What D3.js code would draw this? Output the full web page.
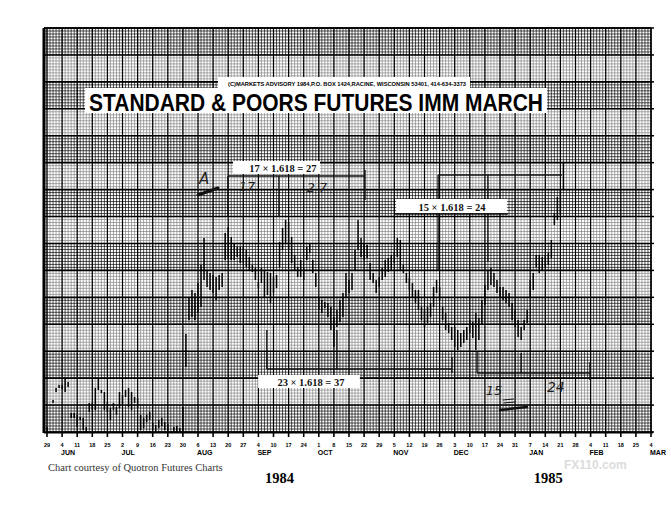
<!DOCTYPE html>
<html><head><meta charset="utf-8">
<script src="https://cdn.jsdelivr.net/npm/d3@7"></script>
<style>html,body{margin:0;padding:0;background:#fff;} svg{display:block;}</style>
</head><body>
<svg id="c" width="671" height="506"></svg>
<script>
// ---------------- data ----------------
const tickLabels = ["29","4","11","18","25","2","9","16","23","30","6","13","20","27","4","10","17","24","1","8","15","22","29","5","12","19","26","3","10","17","24","31","7","14","21","28","4","11","18","25","4"];
const monthLabels = ["JUN","JUL","AUG","SEP","OCT","NOV","DEC","JAN","FEB","MAR"];
const monthTick = [1,5,10,14,18,23,27,32,36,40];
const yearLabels = ["1984","1985"];

// trading-day index (0 = May 29 1984), daily high and low
const days = [0,2,3,4,5,6,7,8,9,10,11,12,13,14,15,16,17,18,19,20,21,22,23,24,25,26,27,28,29,30,31,32,33,34,35,36,37,38,39,40,42,43,44,45,46,
 47,48,49,50,51,52,53,54,55,56,57,58,59,60,61,62,63,64,65,66,67,68,69,70,71,72,73,74,75,76,77,78,79,80,81,82,83,84,85,86,87,88,89,90,
 91,92,93,94,95,96,97,98,99,100,101,102,103,104,105,106,107,108,109,110,111,112,113,114,115,116,117,118,119,120,121,122,123,124,125,
 126,127,128,129,130,131,132,133,134,135,136,137,138,139,140,141,142,143,144,145,146,147,148,149,150,151,152,153,154,155,156,157,158,
 159,160,161,162,163,164,165,166,167,168,169,170,171];
const highs = [150.5,153.2,154.4,154.7,154.7,155.4,155.0,151.9,151.9,151.7,151.5,151.4,150.5,152.9,152.9,154.4,155.4,154.2,154.0,153.0,
 152.4,152.9,152.5,154.0,153.7,154.2,154.4,154.0,153.5,153.4,151.7,151.4,151.7,152.0,150.9,150.7,151.2,151.4,151.0,150.8,150.5,150.6,150.4,152.5,159.8,
 163.5,164.2,163.9,164.9,166.7,169.4,166.2,165.9,165.7,165.5,165.7,165.9,169.9,170.5,169.5,168.9,168.5,168.5,168.5,168.2,167.5,166.7,166.4,
 165.0,166.4,166.2,166.0,165.9,165.5,165.7,169.0,170.4,171.2,171.0,169.5,167.7,166.5,167.2,166.4,168.5,168.9,167.2,165.9,163.5,163.2,163.0,
 162.9,162.5,161.5,162.2,163.2,163.9,165.9,165.2,165.9,168.2,171.2,169.4,168.9,168.7,166.9,165.9,165.2,165.5,166.4,167.2,167.4,167.7,168.0,
 169.4,169.2,166.7,165.9,165.4,164.9,164.2,164.2,162.5,162.2,162.5,162.9,164.5,165.2,164.5,162.5,161.9,160.9,160.5,160.5,160.2,159.9,160.2,
 160.5,161.2,161.0,161.9,161.4,163.2,164.7,166.2,166.4,165.9,165.2,164.5,164.5,164.2,163.9,162.9,162.2,161.2,160.5,161.2,162.2,165.2,165.9,
 167.7,167.7,167.5,167.7,167.9,169.2,171.9,173.5,174.2,176.9];
const lows = [150.0,152.9,154.0,154.4,154.3,154.0,154.5,151.4,151.4,150.5,151.2,150.2,150.0,152.0,152.2,152.2,154.2,153.9,152.2,152.0,
 151.2,152.2,151.7,152.4,152.7,153.5,152.5,152.2,152.9,152.4,150.2,150.4,151.0,151.2,150.2,150.0,150.4,150.6,150.2,150.1,150.0,150.0,150.0,150.0,156.5,
 161.2,161.5,161.2,161.9,162.5,165.2,164.5,164.2,163.9,163.2,164.2,164.5,167.2,167.4,167.2,167.2,167.5,166.9,166.9,166.5,166.2,166.0,165.2,
 164.4,164.9,163.5,163.7,162.9,163.9,164.4,166.5,168.2,168.9,168.2,166.9,166.2,165.5,165.5,165.2,167.2,167.9,165.9,164.5,162.2,161.9,162.4,
 161.5,160.2,158.5,160.5,161.0,161.5,163.5,163.9,164.2,166.2,168.2,167.5,167.2,167.4,165.2,164.9,163.9,164.5,165.2,165.5,166.0,166.2,166.9,
 167.5,166.2,165.9,164.9,164.2,163.5,162.9,162.2,161.2,160.5,160.9,161.5,162.5,163.9,163.2,161.2,160.2,159.9,159.2,158.5,158.2,158.5,158.9,
 159.2,159.9,159.4,158.2,159.2,160.7,162.7,164.2,164.7,164.5,163.9,163.5,163.2,162.9,162.5,161.2,160.5,159.5,159.2,160.2,160.9,163.5,164.2,
 166.5,165.9,166.2,166.5,166.7,167.4,170.7,171.2,171.7,174.2];

// annotation brackets: [day1, price1, day2, price2]
const bracketSegs = [
  [59.9,175.6,105.3,175.6],[59.9,175.6,59.9,171.5],[76.8,175.6,76.8,171.5],[105.3,176.2,105.3,173.2],
  [72.8,156.3,134.1,156.3],[72.8,160.2,72.8,156.3],[96.0,160.2,96.0,156.3],[134.1,157.5,134.1,155.9],
  [129.5,175.7,170.5,175.7],[129.5,175.7,129.5,166.2],[146.0,175.7,146.0,167.0],[115.2,171.8,152.6,171.8],
  [142.4,155.9,179.8,155.9],[142.4,158.0,142.4,155.9],[157.0,157.9,157.0,155.9],[179.8,157.0,179.8,155.2]
];
// fibonacci label boxes: [dayLeft, dayRight, priceTop, priceBottom, textDay, textPrice, text]
const fibLabels = [
  [61.6,90.4,177.1,175.8,78.1,176.05,"17 \u00d7 1.618 = 27"],
  [115.6,152.3,173.3,171.9,134.1,172.15,"15 \u00d7 1.618 = 24"],
  [69.9,103.6,155.7,154.4,87.4,154.65,"23 \u00d7 1.618 = 37"]
];
// handwritten marks: [day, price, text, size]
const handNotes = [[52.0,174.8,"A",15],[66.2,174.1,"17",13],[89.4,174.0,"2 7",13],[148.0,153.7,"15",13],[168.5,154.0,"24",14]];
const handStrokes = [[50.0,173.7,56.6,174.4,3],[150.0,152.2,158.9,152.5,2.5],[151.0,153.2,154.5,153.3,1],[151.2,152.9,154.8,153.0,1]];

// ---------------- drawing ----------------
const svg = d3.select("#c");
const x = d3.scaleLinear().domain([0,200]).range([47,651]);
const y = d3.scaleLinear().domain([150,190.4]).range([432,28]);
const L = x(-1), R = x(200), T = y(190.4), B = y(150);
const nBands = 15, sub = 9;
const bandStep = 40.4/nBands;
const bandTop = i => y(190.4 - i*bandStep);

svg.append("rect").attr("width",671).attr("height",506).attr("fill","#fff");

const grid = svg.append("g");
// minor verticals (daily)
grid.selectAll("line.mv").data(d3.range(-1,201)).join("line")
  .attr("x1",d=>x(d)).attr("x2",d=>x(d)).attr("y1",T).attr("y2",B)
  .attr("stroke","#000").attr("stroke-opacity",0.8).attr("stroke-width",0.85);
// minor horizontals
grid.selectAll("line.mh").data(d3.range(0,nBands*sub+1)).join("line")
  .attr("x1",L).attr("x2",R).attr("y1",d=>y(150+d*bandStep/sub)).attr("y2",d=>y(150+d*bandStep/sub))
  .attr("stroke","#000").attr("stroke-opacity",0.8).attr("stroke-width",0.85);
// lighter bands
grid.selectAll("rect.lb").data(d3.range(0,nBands).filter(i=>i%2===1)).join("rect")
  .attr("x",L).attr("width",R-L)
  .attr("y",i=>bandTop(i)).attr("height",i=>bandTop(i+1)-bandTop(i))
  .attr("fill","#fff").attr("fill-opacity",0.5);
// weekly verticals
grid.selectAll("line.wv").data(d3.range(0,41)).join("line")
  .attr("x1",k=>x(5*k)).attr("x2",k=>x(5*k)).attr("y1",T).attr("y2",B)
  .attr("stroke","#000").attr("stroke-width",1.2);
// band lines
grid.selectAll("line.bh").data(d3.range(0,nBands+1)).join("line")
  .attr("x1",L).attr("x2",R).attr("y1",i=>bandTop(i)).attr("y2",i=>bandTop(i))
  .attr("stroke","#000").attr("stroke-width",1.6);
// right ticks
grid.selectAll("line.rt").data(d3.range(0,nBands+1)).join("line")
  .attr("x1",R).attr("x2",R+3).attr("y1",i=>bandTop(i)).attr("y2",i=>bandTop(i))
  .attr("stroke","#000").attr("stroke-width",1.5);

// borders
svg.append("line").attr("x1",L).attr("x2",L).attr("y1",T).attr("y2",B+1).attr("stroke","#000").attr("stroke-width",3);
svg.append("line").attr("x1",L).attr("x2",R).attr("y1",T).attr("y2",T).attr("stroke","#000").attr("stroke-width",1.5);
svg.append("line").attr("x1",R).attr("x2",R).attr("y1",T).attr("y2",B).attr("stroke","#000").attr("stroke-width",1.2);
svg.append("line").attr("x1",L).attr("x2",R+2).attr("y1",B+0.5).attr("y2",B+0.5).attr("stroke","#000").attr("stroke-width",2.2);

// title blocks
svg.append("rect").attr("x",218).attr("y",77).attr("width",252).attr("height",12).attr("fill","#fff");
svg.append("rect").attr("x",85).attr("y",88).attr("width",462).attr("height",25).attr("fill","#fff");
svg.append("text").attr("x",228).attr("y",85.5).attr("textLength",238).attr("lengthAdjust","spacingAndGlyphs")
  .attr("font-family","Liberation Sans, Arial, sans-serif").attr("font-weight","bold").attr("font-size",5.5)
  .text("(C)MARKETS ADVISORY 1984,P.O. BOX 1424,RACINE, WISCONSIN 53401, 414-634-3373");
svg.append("text").attr("x",89).attr("y",110.5).attr("textLength",454).attr("lengthAdjust","spacingAndGlyphs")
  .attr("font-family","Liberation Sans, Arial, sans-serif").attr("font-weight","bold").attr("font-size",23)
  .text("STANDARD & POORS FUTURES IMM MARCH");

// price bars
const bars = days.map((d,i)=>({d, h:highs[i], l:lows[i]}));
svg.append("g").selectAll("line").data(bars).join("line")
  .attr("x1",b=>x(b.d)).attr("x2",b=>x(b.d)).attr("y1",b=>y(b.h)).attr("y2",b=>Math.min(y(b.l),B))
  .attr("stroke","#000").attr("stroke-width",1.5);

// brackets
svg.append("g").selectAll("line").data(bracketSegs).join("line")
  .attr("x1",s=>x(s[0])).attr("y1",s=>y(s[1])).attr("x2",s=>x(s[2])).attr("y2",s=>y(s[3]))
  .attr("stroke","#111").attr("stroke-width",1.4);

// fib labels
const fl = svg.append("g");
fl.selectAll("rect").data(fibLabels).join("rect")
  .attr("x",f=>x(f[0])).attr("width",f=>x(f[1])-x(f[0]))
  .attr("y",f=>y(f[2])).attr("height",f=>y(f[3])-y(f[2])).attr("fill","#fff");
fl.selectAll("text").data(fibLabels).join("text")
  .attr("x",f=>x(f[4])).attr("y",f=>y(f[5])).attr("text-anchor","middle")
  .attr("font-family","Liberation Serif, Times New Roman, serif").attr("font-weight","bold").attr("font-size",10.5)
  .attr("fill","#111").text(f=>f[6]);

// handwriting
svg.append("g").selectAll("text").data(handNotes).join("text")
  .attr("x",h=>x(h[0])).attr("y",h=>y(h[1])).attr("text-anchor","middle")
  .attr("font-family","DejaVu Sans, sans-serif").attr("font-size",h=>h[3]).attr("fill","#222")
  .attr("font-style","italic").text(h=>h[2]);
svg.append("g").selectAll("line").data(handStrokes).join("line")
  .attr("x1",s=>x(s[0])).attr("y1",s=>y(s[1])).attr("x2",s=>x(s[2])).attr("y2",s=>y(s[3]))
  .attr("stroke","#111").attr("stroke-width",s=>s[4]).attr("stroke-linecap","round");

// bottom axis ticks and labels
const ax = svg.append("g");
ax.selectAll("line").data(tickLabels).join("line")
  .attr("x1",(t,k)=>x(5*k)).attr("x2",(t,k)=>x(5*k)).attr("y1",B).attr("y2",B+5)
  .attr("stroke","#000").attr("stroke-width",1.6);
ax.selectAll("text.tl").data(tickLabels).join("text").attr("class","tl")
  .attr("x",(t,k)=>x(5*k)).attr("y",446.5).attr("text-anchor","middle")
  .attr("font-family","Liberation Sans, Arial, sans-serif").attr("font-weight","bold").attr("font-size",5.5)
  .text(t=>t);
ax.selectAll("text.ml").data(monthLabels).join("text").attr("class","ml")
  .attr("x",(m,i)=>x(5*monthTick[i])-1).attr("y",455)
  .attr("font-family","Liberation Sans, Arial, sans-serif").attr("font-weight","bold").attr("font-size",7)
  .text(m=>m);

svg.append("text").attr("x",48).attr("y",471)
  .attr("font-family","Liberation Serif, Times New Roman, serif").attr("font-size",10.5).attr("fill","#333")
  .text("Chart courtesy of Quotron Futures Charts");
svg.selectAll("text.yr").data(yearLabels).join("text").attr("class","yr")
  .attr("x",(t,i)=>x(i===0?77:166)).attr("y",483).attr("text-anchor","middle")
  .attr("font-family","Liberation Serif, Times New Roman, serif").attr("font-weight","bold").attr("font-size",14.5)
  .text(t=>t);

// watermark (kept clear of the axis labels)
svg.append("text").attr("x",564).attr("y",469)
  .attr("font-family","Liberation Sans, Arial, sans-serif").attr("font-weight","bold").attr("font-size",12)
  .attr("fill","#dcdcdc").text("FX110.com");
</script>
</body></html>
